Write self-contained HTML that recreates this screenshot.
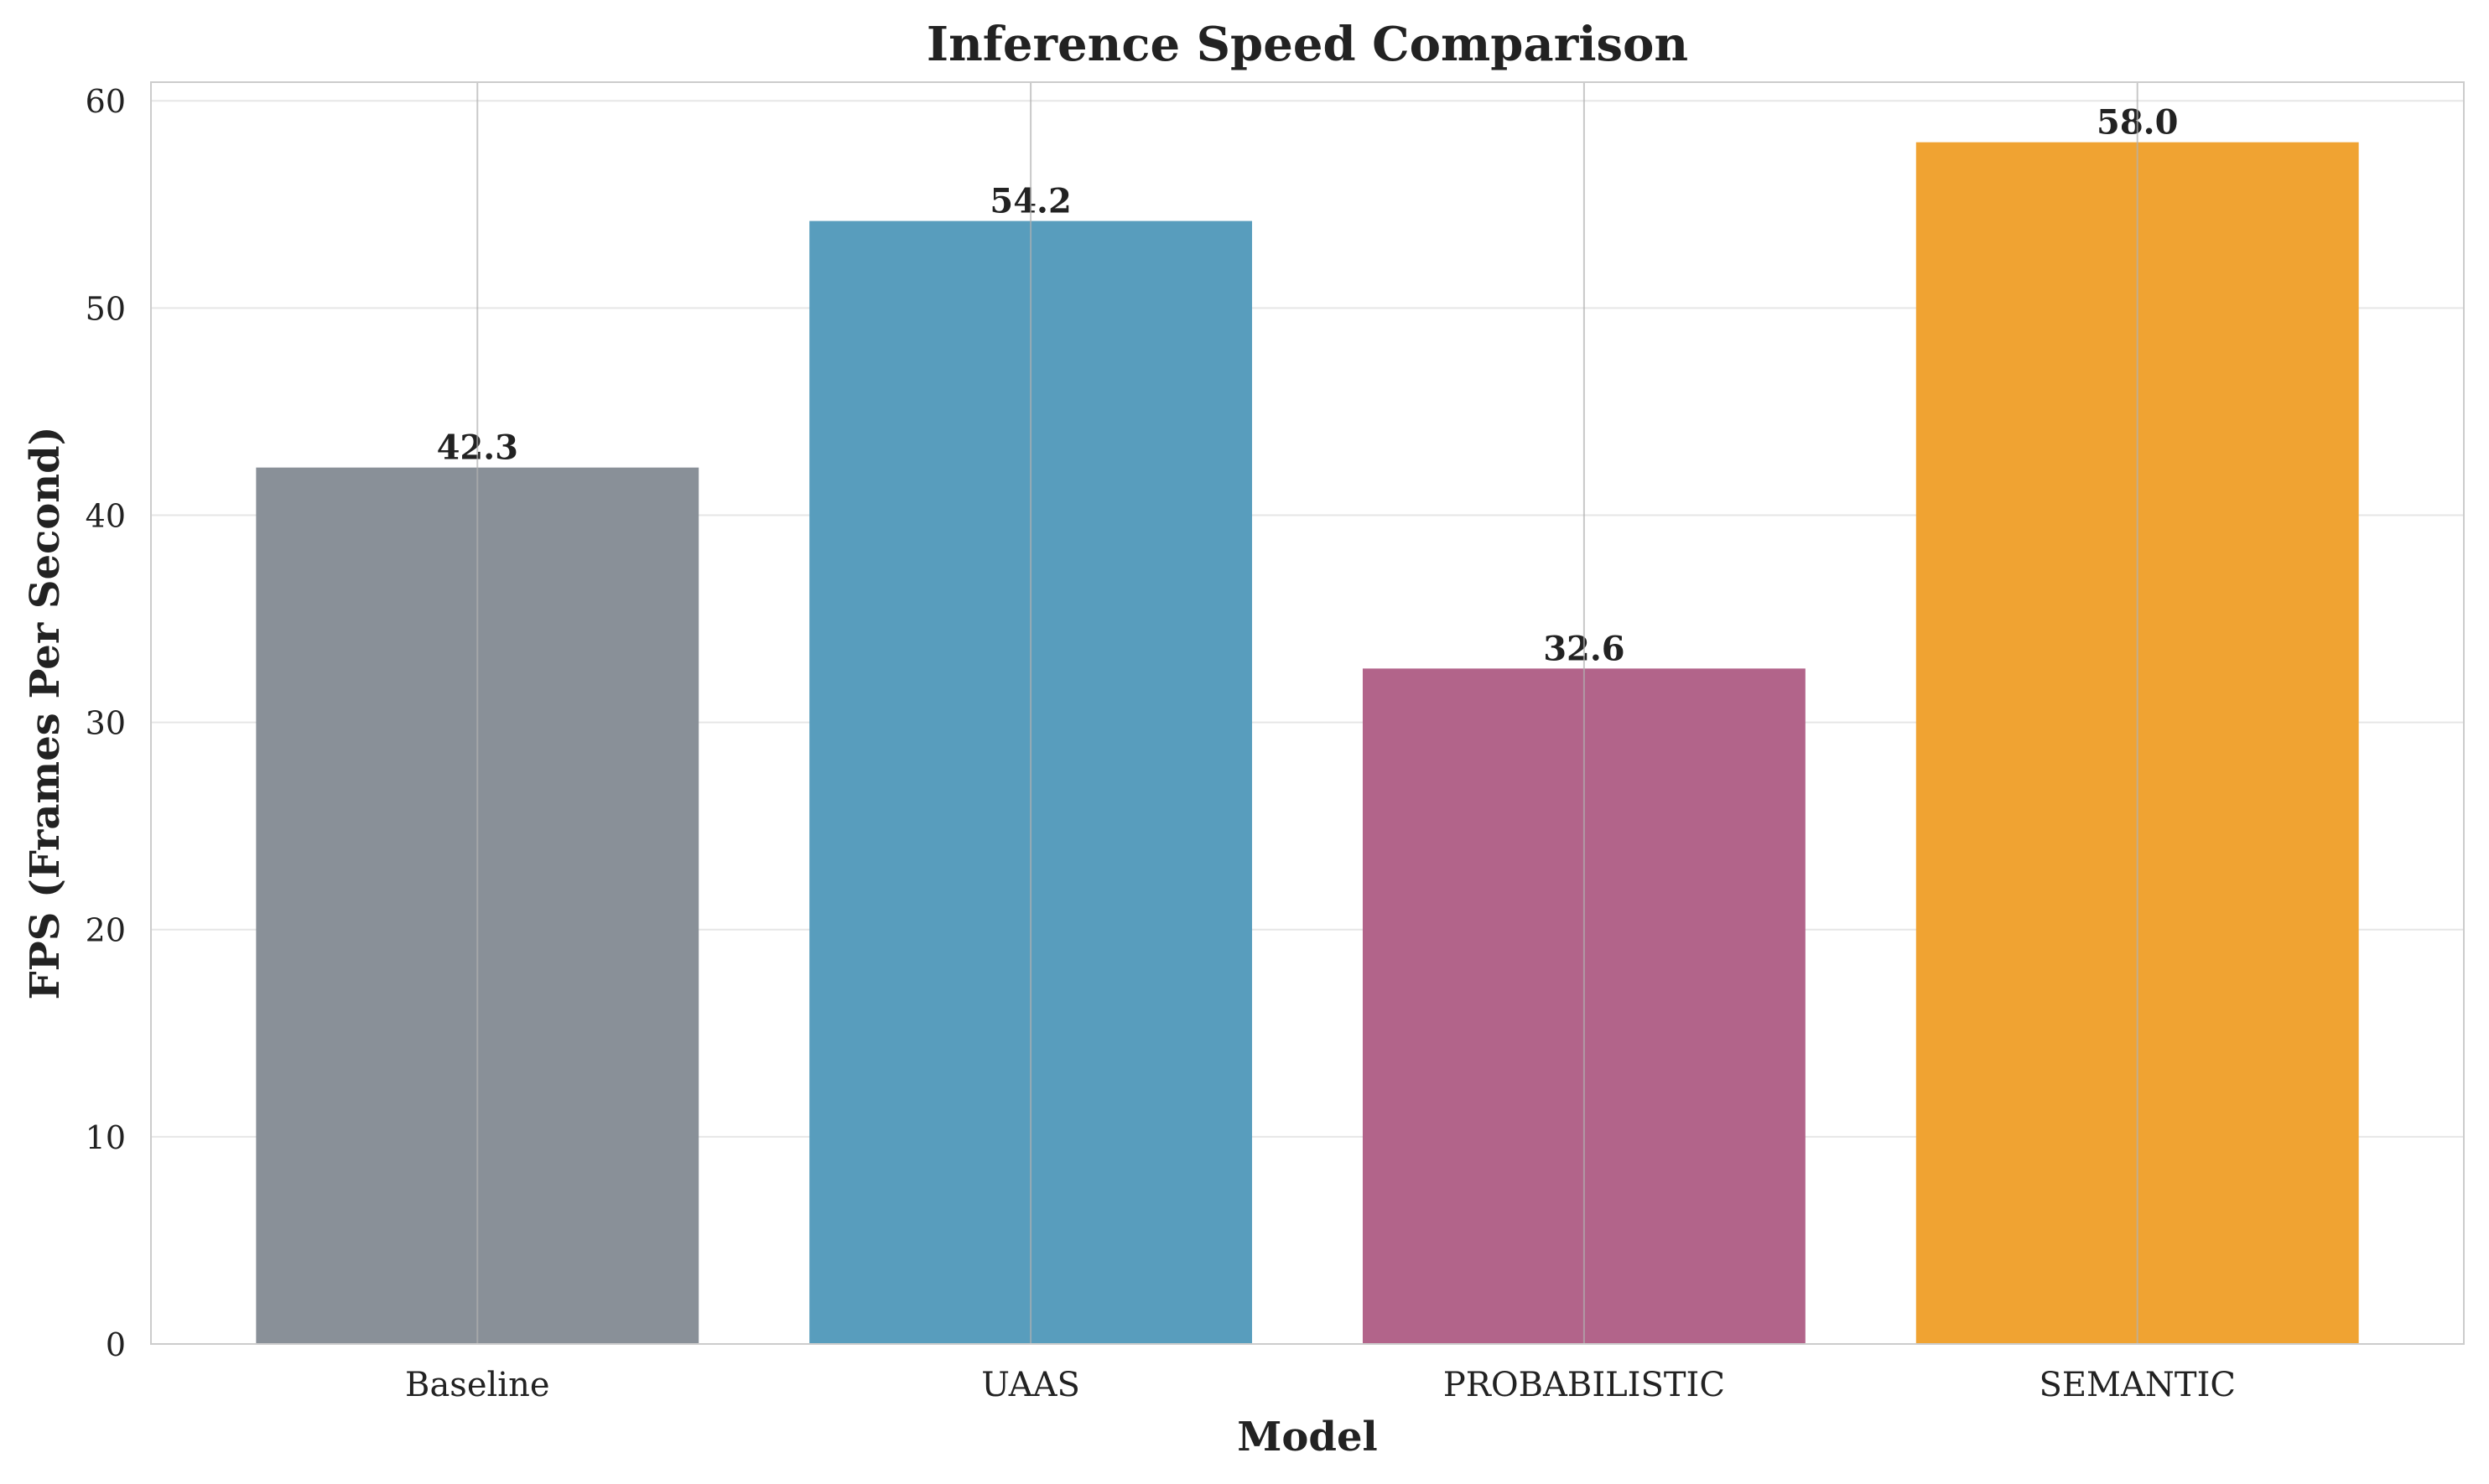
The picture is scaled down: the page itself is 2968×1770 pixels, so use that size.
<!DOCTYPE html>
<html><head><meta charset="utf-8"><style>
html,body{margin:0;padding:0;background:#fff;}
svg{display:block;font-family:"DejaVu Serif","Liberation Serif",serif;}
</style></head><body>
<svg id="chart" width="2968" height="1770" viewBox="0 0 2968 1770"></svg>
<script>
const categories = ["Baseline","UAAS","PROBABILISTIC","SEMANTIC"];
const fpsValues = [42.3, 54.2, 32.6, 58.0];
const valueLabels = ["42.3","54.2","32.6","58.0"];
const barColors = ["#899098","#589dbd","#b2648a","#f0a332"];
const yTicks = [0,10,20,30,40,50,60];

const L=180,R=2938,T=98,B=1603;
const xMin=-0.59,xMax=3.59,yMin=0,yMax=60.9;
const xs=v=>L+(v-xMin)/(xMax-xMin)*(R-L);
const ys=v=>B-(v-yMin)/(yMax-yMin)*(B-T);
const svg=document.getElementById('chart');
const NS="http://www.w3.org/2000/svg";
function mk(tag,attrs,parent){const e=document.createElementNS(NS,tag);for(const k in attrs)e.setAttribute(k,attrs[k]);(parent||svg).appendChild(e);return e;}

yTicks.forEach(t=>{
  const g=mk('line',{x1:L,x2:R,y1:ys(t),y2:ys(t),stroke:'#e6e6e6','stroke-width':2});
  
  
  const lb=mk('text',{x:L-30,y:ys(t)+14,'text-anchor':'end','font-size':38,fill:'#222'});
  lb.textContent=t;
  
  
});
const bw=0.8;
categories.forEach((c,i)=>{
  const b=mk('rect',{x:xs(i-bw/2),y:ys(fpsValues[i]),width:xs(i+bw/2)-xs(i-bw/2),height:ys(0)-ys(fpsValues[i]),fill:barColors[i]});
  
  
  const v=mk('text',{x:xs(i),y:ys(fpsValues[i])-10,'text-anchor':'middle','font-size':40,'font-weight':'bold',fill:'#222'});
  v.textContent=valueLabels[i];
  
  
  const tl=mk('text',{x:xs(i),y:1665,'text-anchor':'middle','font-size':40,fill:'#222'});
  tl.textContent=c;
  
  
});
categories.forEach((c,i)=>{
  const g=mk('line',{x1:xs(i),x2:xs(i),y1:T,y2:B,stroke:'#b0b0b0','stroke-opacity':0.7,'stroke-width':2});
  
  
});
const fr=mk('rect',{x:L,y:T,width:R-L,height:B-T,fill:'none',stroke:'#cccccc','stroke-width':2});


const ti=mk('text',{x:(L+R)/2,y:72,'text-anchor':'middle','font-size':56,'font-weight':'bold',fill:'#222'});
ti.textContent='Inference Speed Comparison';


const xl=mk('text',{x:(L+R)/2,y:1730,'text-anchor':'middle','font-size':48,'font-weight':'bold',fill:'#222'});
xl.textContent='Model';


const yl=mk('text',{x:0,y:0,'text-anchor':'middle','font-size':48,'font-weight':'bold',fill:'#222',transform:`translate(70,${(T+B)/2}) rotate(-90)`});
yl.textContent='FPS (Frames Per Second)';


</script>
</body></html>
